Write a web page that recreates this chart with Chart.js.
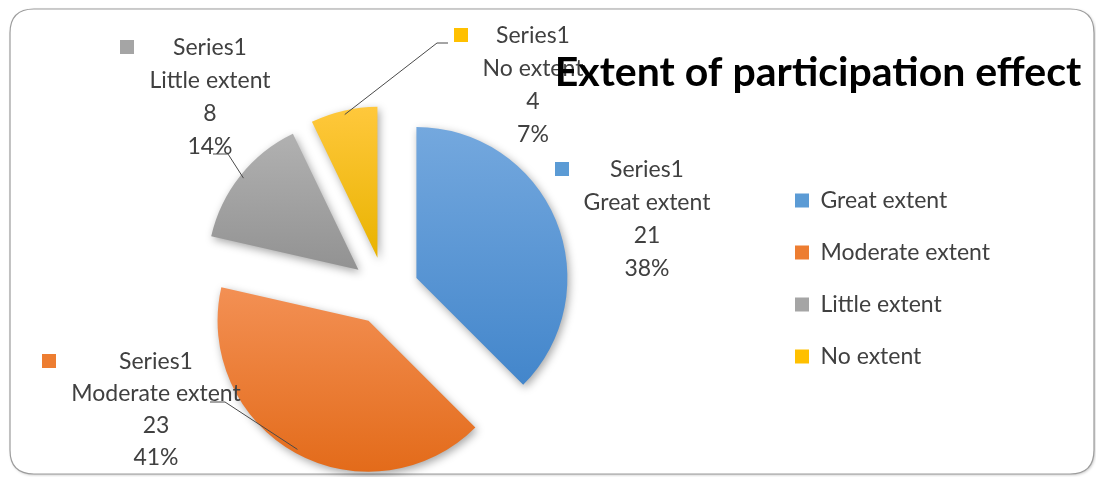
<!DOCTYPE html>
<html>
<head>
<meta charset="utf-8">
<script src="https://cdn.jsdelivr.net/npm/chart.js@4.4.1/dist/chart.umd.min.js"></script>
<style>
  html, body { margin: 0; padding: 0; background: #fff; }
</style>
</head>
<body>
<canvas id="myChart" width="1096" height="477"></canvas>
<script>
const categories = ['Great extent', 'Moderate extent', 'Little extent', 'No extent']
const counts = [21, 23, 8, 4]
const seriesName = 'Series1'
const chartTitle = 'Extent of participation effect'

const colors = ['#5b9bd5', '#ed7d31', '#a5a5a5', '#ffc000']
const gradTop = ['#74a8de', '#f39054', '#b1b1b1', '#ffc83c']
const gradBottom = ['#4386cb', '#e36b1a', '#929292', '#e9b300']

const fontFamily = 'Lato, "Open Sans", sans-serif'
const textColor = '#404040'
const labelSize = 23
const explode = 34
const pieRadius = 151
const pieCenter = {x: 385, y: 291}

// legend: x of the colour boxes, y of the first row, gap between rows
const legendBoxX = 795
const legendFirstRow = 189
const legendPad = 29

// label blocks: centre x, first line y, line height, leader [startX, startY, elbowX]
const labelLayout = [
  {x: 647, y: 170, lh: 33, leader: null},
  {x: 156, y: 362, lh: 32, leader: [210, 402, 225]},
  {x: 210, y: 48, lh: 33, leader: [213, 154, 228]},
  {x: 533, y: 36, lh: 33, leader: [448, 43, 437]},
]

const total = counts.reduce((a, b) => a + b, 0)
const pcts = counts.map(v => Math.round(v / total * 100) + '%')

// work out the layout padding so the pie centre and legend land where wanted
const mctx = document.createElement('canvas').getContext('2d')
mctx.font = `${labelSize}px ${fontFamily}`
const widest = Math.max(...categories.map(c => mctx.measureText(c).width))
const colW = 14 + labelSize / 2 + widest
const padRight = 1096 - legendBoxX - colW - 10
const padLeft = 2 * pieCenter.x - (legendBoxX - legendPad)
const padTop = legendFirstRow - legendPad
const padBottom = 477 - (2 * pieCenter.y - padTop)

const framePlugin = {
  id: 'frame',
  beforeDraw(chart) {
    const ctx = chart.ctx
    const x = 10, y = 9, w = 1084, h = 465, r = 24
    ctx.save()
    ctx.beginPath()
    ctx.moveTo(x + r, y)
    ctx.lineTo(x + w - r, y)
    ctx.quadraticCurveTo(x + w, y, x + w, y + r)
    ctx.lineTo(x + w, y + h - r)
    ctx.quadraticCurveTo(x + w, y + h, x + w - r, y + h)
    ctx.lineTo(x + r, y + h)
    ctx.quadraticCurveTo(x, y + h, x, y + h - r)
    ctx.lineTo(x, y + r)
    ctx.quadraticCurveTo(x, y, x + r, y)
    ctx.closePath()
    ctx.fillStyle = '#fff'
    ctx.shadowColor = 'rgba(0,0,0,0.25)'
    ctx.shadowBlur = 3
    ctx.shadowOffsetX = 1
    ctx.shadowOffsetY = 1
    ctx.fill()
    ctx.shadowColor = 'transparent'
    ctx.strokeStyle = '#9c9c9c'
    ctx.lineWidth = 1.2
    ctx.stroke()
    ctx.restore()
  }
}

// pull every slice out along its middle angle and give it a vertical gradient
const explodePlugin = {
  id: 'explode',
  afterDatasetUpdate(chart, args) {
    const ctx = chart.ctx
    args.meta.data.forEach((arc, i) => {
      const mid = (arc.startAngle + arc.endAngle) / 2
      arc.x += Math.cos(mid) * explode
      arc.y += Math.sin(mid) * explode
      let top = arc.y, bottom = arc.y
      for (let k = 0; k <= 24; k++) {
        const a = arc.startAngle + (arc.endAngle - arc.startAngle) * k / 24
        const py = arc.y + Math.sin(a) * arc.outerRadius
        top = Math.min(top, py)
        bottom = Math.max(bottom, py)
      }
      const g = ctx.createLinearGradient(0, top, 0, bottom)
      g.addColorStop(0, gradTop[i])
      g.addColorStop(1, gradBottom[i])
      arc.options = Object.assign({}, arc.options, {backgroundColor: g})
    })
  },
  beforeDatasetsDraw(chart) {
    const ctx = chart.ctx
    ctx.save()
    ctx.shadowColor = 'rgba(0,0,0,0.35)'
    ctx.shadowBlur = 8
    ctx.shadowOffsetX = 2
    ctx.shadowOffsetY = 3
  },
  afterDatasetsDraw(chart) {
    chart.ctx.restore()
  }
}

const labelPlugin = {
  id: 'sliceLabels',
  afterDraw(chart) {
    const ctx = chart.ctx
    const arcs = chart.getDatasetMeta(0).data
    ctx.save()
    // leader lines
    ctx.strokeStyle = '#4a4a4a'
    ctx.lineWidth = 1
    arcs.forEach((arc, i) => {
      const ld = labelLayout[i].leader
      if (!ld) return
      const mid = (arc.startAngle + arc.endAngle) / 2
      const ex = arc.x + Math.cos(mid) * (arc.outerRadius - 4)
      const ey = arc.y + Math.sin(mid) * (arc.outerRadius - 4)
      ctx.beginPath()
      ctx.moveTo(ld[0], ld[1])
      ctx.lineTo(ld[2], ld[1])
      ctx.lineTo(ex, ey)
      ctx.stroke()
    })
    // text blocks
    ctx.font = `${labelSize}px ${fontFamily}`
    ctx.fillStyle = textColor
    ctx.textAlign = 'center'
    ctx.textBaseline = 'middle'
    arcs.forEach((arc, i) => {
      const L = labelLayout[i]
      const lines = [seriesName, categories[i], String(counts[i]), pcts[i]]
      const w = Math.max(...lines.map(t => ctx.measureText(t).width))
      lines.forEach((t, k) => ctx.fillText(t, L.x, L.y + k * L.lh))
      ctx.fillStyle = colors[i]
      ctx.fillRect(Math.round(L.x - w / 2 - 29), Math.round(L.y - 8), 14, 14)
      ctx.fillStyle = textColor
    })
    // chart title
    ctx.font = `bold 41px ${fontFamily}`
    ctx.fillStyle = '#000'
    ctx.textAlign = 'center'
    ctx.textBaseline = 'alphabetic'
    ctx.fillText(chartTitle, 818, 86)
    ctx.restore()
  }
}

const ctx = document.getElementById('myChart').getContext('2d')
const myChart = new Chart(ctx, {
  type: 'pie',
  data: {
    labels: categories,
    datasets: [{
      label: seriesName,
      data: counts,
      backgroundColor: colors,
      borderWidth: 0,
      radius: pieRadius,
      clip: false
    }]
  },
  options: {
    responsive: false,
    animation: false,
    layout: {
      padding: {left: padLeft, right: padRight, top: padTop, bottom: padBottom}
    },
    plugins: {
      legend: {
        position: 'right',
        align: 'start',
        labels: {
          boxWidth: 14,
          boxHeight: 14,
          padding: legendPad,
          color: textColor,
          font: {family: fontFamily, size: labelSize}
        }
      },
      tooltip: {enabled: false}
    }
  },
  plugins: [framePlugin, explodePlugin, labelPlugin]
})
</script>
</body>
</html>
